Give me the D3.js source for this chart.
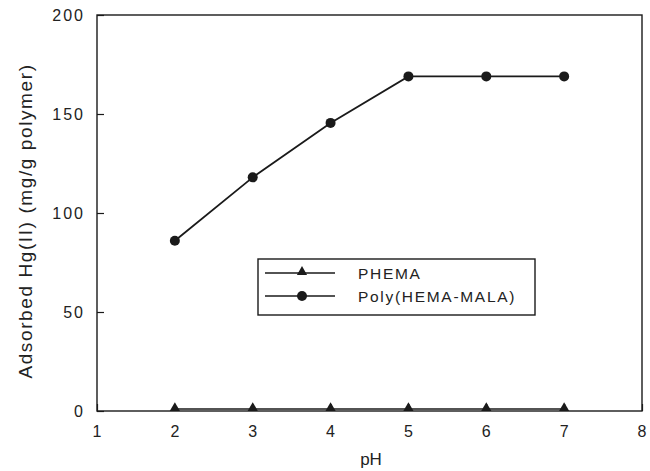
<!DOCTYPE html>
<html>
<head>
<meta charset="utf-8">
<script src="https://cdn.jsdelivr.net/npm/d3@7"></script>
<style>
  body { margin: 0; background: #fff; }
  text { font-family: "Liberation Sans", Arial, sans-serif; fill: #222; }
</style>
</head>
<body>
<svg id="chart" width="650" height="471"></svg>
<script>
const width = 650,
  height = 471;

// data
const pH = [2, 3, 4, 5, 6, 7];
const phema = [1, 1, 1, 1, 1, 1];
const polyHemaMala = [86, 118, 145.5, 169, 169, 169];
const xTicks = [1, 2, 3, 4, 5, 6, 7, 8];
const yTicks = [0, 50, 100, 150, 200];
const seriesNames = ["PHEMA", "Poly(HEMA-MALA)"];

const margin = {top: 15, right: 8, bottom: 60, left: 97};

const x = d3.scaleLinear()
  .domain([1, 8])
  .range([margin.left, width - margin.right]);

const y = d3.scaleLinear()
  .domain([0, 200])
  .range([height - margin.bottom, margin.top]);

const svg = d3.select("#chart");
const ink = "#1a1a1a";

// frame
svg.append("rect")
  .attr("x", x(1))
  .attr("y", y(200))
  .attr("width", x(8) - x(1))
  .attr("height", y(0) - y(200))
  .attr("fill", "none")
  .attr("stroke", ink)
  .attr("stroke-width", 1.4);

// y axis
const yAxis = svg.append("g")
  .attr("transform", "translate(" + x(1) + ",0)")
  .call(d3.axisRight(y).tickValues(yTicks).tickSize(7).tickFormat(""));
yAxis.select(".domain").remove();
yAxis.selectAll("line").attr("stroke", ink).attr("stroke-width", 1.2);

svg.append("g").selectAll("text")
  .data(yTicks)
  .enter().append("text")
  .attr("x", 85)
  .attr("y", d => y(d) + 6)
  .attr("text-anchor", "end")
  .attr("font-size", 16)
  .attr("letter-spacing", 2)
  .text(d => d);

// x axis
const xAxis = svg.append("g")
  .attr("transform", "translate(0," + y(0) + ")")
  .call(d3.axisTop(x).tickValues(xTicks).tickSize(7).tickFormat(""));
xAxis.select(".domain").remove();
xAxis.selectAll("line").attr("stroke", ink).attr("stroke-width", 1.2);

svg.append("g").selectAll("text")
  .data(xTicks)
  .enter().append("text")
  .attr("x", d => x(d))
  .attr("y", 437)
  .attr("text-anchor", "middle")
  .attr("font-size", 16)
  .text(d => d);

// axis titles
svg.append("text")
  .attr("x", 371)
  .attr("y", 465)
  .attr("text-anchor", "middle")
  .attr("font-size", 17)
  .text("pH");

svg.append("text")
  .attr("transform", "translate(32," + 221 + ") rotate(-90)")
  .attr("text-anchor", "middle")
  .attr("font-size", 19)
  .attr("letter-spacing", 1.6)
  .text("Adsorbed Hg(II) (mg/g polymer)");

// series
const line = d3.line()
  .x(d => x(d[0]))
  .y(d => y(d[1]));

const triangle = d3.symbol().type(d3.symbolTriangle).size(45);

const phemaPts = d3.zip(pH, phema);
const polyPts = d3.zip(pH, polyHemaMala);

svg.append("path")
  .datum(phemaPts)
  .attr("d", line)
  .attr("fill", "none")
  .attr("stroke", ink)
  .attr("stroke-width", 1.6);

svg.append("g").selectAll("path")
  .data(phemaPts)
  .enter().append("path")
  .attr("d", triangle)
  .attr("transform", d => "translate(" + x(d[0]) + "," + (y(d[1]) - 1) + ")")
  .attr("fill", ink);

svg.append("path")
  .datum(polyPts)
  .attr("d", line)
  .attr("fill", "none")
  .attr("stroke", ink)
  .attr("stroke-width", 1.8);

svg.append("g").selectAll("circle")
  .data(polyPts)
  .enter().append("circle")
  .attr("cx", d => x(d[0]))
  .attr("cy", d => y(d[1]))
  .attr("r", 5)
  .attr("fill", ink);

// legend
const legend = svg.append("g");
legend.append("rect")
  .attr("x", 258)
  .attr("y", 259)
  .attr("width", 277)
  .attr("height", 56)
  .attr("fill", "#fff")
  .attr("stroke", ink)
  .attr("stroke-width", 1.4);

const rows = [273, 296];
seriesNames.forEach((name, i) => {
  const ly = rows[i];
  legend.append("line")
    .attr("x1", 265).attr("x2", 335)
    .attr("y1", ly).attr("y2", ly)
    .attr("stroke", ink)
    .attr("stroke-width", 1.4);
  if (i === 0) {
    legend.append("path")
      .attr("d", triangle)
      .attr("transform", "translate(302," + (ly - 1) + ")")
      .attr("fill", ink);
  } else {
    legend.append("circle")
      .attr("cx", 302).attr("cy", ly).attr("r", 5)
      .attr("fill", ink);
  }
  legend.append("text")
    .attr("x", 358)
    .attr("y", ly + 6)
    .attr("font-size", 15.5)
    .attr("letter-spacing", 1.7)
    .text(name);
});
</script>
</body>
</html>
